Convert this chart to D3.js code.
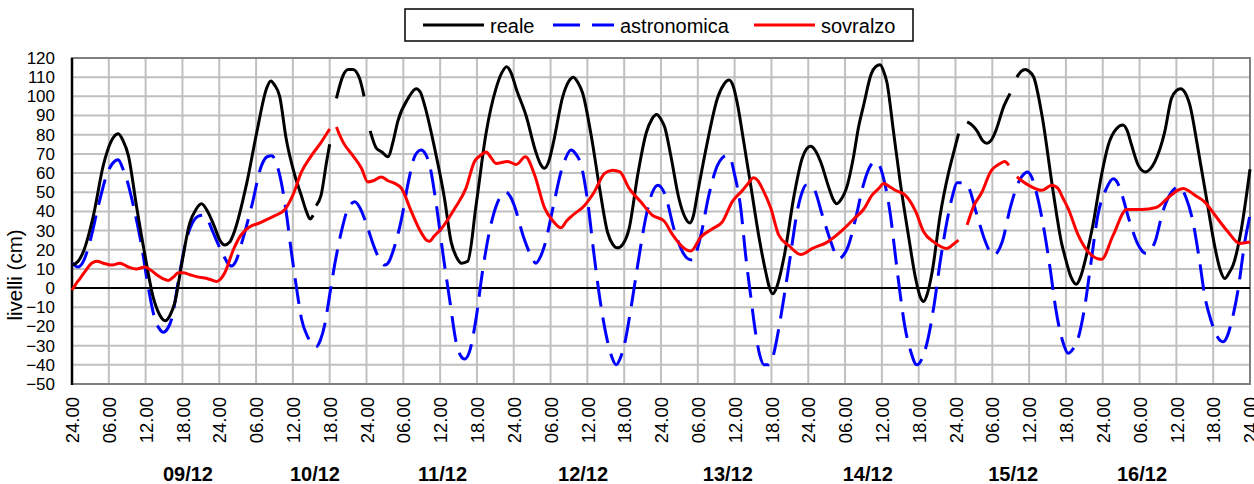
<!DOCTYPE html>
<html>
<head>
<meta charset="utf-8">
<script src="https://cdn.jsdelivr.net/npm/d3@7"></script>
<style>
  body { margin: 0; background: #fff; }
  svg text { font-family: "Liberation Sans", Arial, sans-serif; fill: #000; }
</style>
</head>
<body>
<svg id="chart" width="1254" height="484"></svg>
<script>
// ore dalle 24.00 dell'08/12, livelli in cm; [ora, null] = dato mancante
const reale = [
  [0,12],[1,14],[1.85,19],[3.5,38],[5.1,64],[6.3,76],[7.55,80.5],[8.3,77],[9.2,69],[10.5,43],[11.9,17],
  [13.25,-5],[14.3,-14],[15.2,-17],[16,-14],[16.8,-7],[17.9,13],[19.2,34],[20.2,41],[21.1,44],[22.1,40],
  [23.1,33],[24.1,25],[24.9,22.5],[25.7,24],[26.3,28],[28.5,55],[30.1,81],[31.7,104],[32.4,108],[33,106],
  [33.85,100],[34.9,78],[36.3,59],[37.4,48],[38.2,40],[38.8,36],[39.3,38],[39.5,null],[39.8,43],[40.6,48.5],
  [41.5,66],[42,75],[42.5,null],[43.1,99],[44.2,111],[45,114],[45.8,114],[46.9,109],[47.6,100],[48.1,null],
  [48.6,82],[49.6,73],[50.5,71],[51.5,68.5],[52.3,76],[53.1,87],[54.8,99],[56.1,104],[56.8,102],[57.5,95],
  [59.1,73],[60.7,47],[61.8,24],[62.7,16],[63.5,13],[64.5,14],[65.85,43],[67.5,81],[69.1,104],[70,112],
  [70.85,115.5],[71.6,112],[72.4,104],[74,90],[75.6,71],[76.3,65],[77,62.5],[77.7,66],[78.4,75],[80,100],
  [81,108],[81.7,110],[82.5,107],[83.2,102],[84.6,80],[86,52],[87.3,29],[88.1,23],[88.9,21],[89.8,23],
  [90.8,31],[92.2,59],[93.6,81],[94.5,88],[95.3,90.5],[96,88],[96.6,84],[97.6,69],[98.9,47],[99.9,37],
  [100.7,34],[101.3,38],[101.9,48.5],[103.55,76],[105.2,99],[106.2,106],[107.1,108.5],[107.8,105],[108.4,97],
  [109.5,76],[110.6,54],[112,26],[113.1,8],[113.7,0],[114.2,-3],[114.8,0],[116.1,17],[117.7,48.5],[119,67.6],
  [119.7,72.5],[120.4,74],[121.2,71.5],[122,66],[123.4,52],[124.1,46],[124.6,44],[125.3,46],[126.4,54],
  [127.35,68],[128.2,84],[129,95],[130.3,112],[131,115.5],[131.7,116.5],[132.3,113],[132.8,107.6],[133.9,81.5],
  [135,55],[136.4,26],[137.5,5],[138.3,-5],[138.8,-7],[139.4,-3],[140.2,8.5],[141.5,38],[142.9,60.6],[143.8,72],
  [144.5,80.6],[145.2,null],[145.9,86.7],[146.7,85],[147.5,82],[148.4,77],[149.1,75.5],[149.8,77],[150.5,81.5],
  [151.9,95],[152.9,101.5],[153.4,null],[154,110],[154.7,113],[155.4,114],[156,113],[156.75,110],[158.1,90],
  [159.7,55],[160.5,38],[161.25,24],[161.8,17],[162.8,6],[163.7,2],[164.4,6],[165.1,14],[166.4,33],[167.8,59],
  [168.9,74.6],[170.2,83],[171.3,85],[172,82],[172.7,74.6],[173.8,64],[174.9,60.6],[175.7,62],[176.5,66],
  [178.1,81.5],[179.2,99],[180,103],[180.7,104],[181.4,102],[182.2,95.4],[183.5,73],[184.9,47],[186.3,21],
  [187.1,10],[187.9,5],[188.6,8],[189.25,12],[190.6,31],[192,62]
];

const astronomica = [
  [0,13],[1,11],[2,15],[2.9,24],[4.3,43],[5.65,59],[6.6,65],[7.55,67],[8.2,63],[8.9,57],[10,43],[11.4,21],
  [12.45,0],[13.5,-16],[14.2,-21],[14.9,-23],[15.6,-21],[16.25,-16],[17.3,3],[18.4,22],[19.8,35],[20.6,37.5],
  [21.4,38],[22.2,35],[23,29],[24.7,17],[25.4,13],[26,11.5],[26.7,14],[27.7,24],[29.3,43],[30.9,64],[31.8,68.5],
  [32.6,69],[33.2,66],[33.85,59],[34.9,40],[35.75,19],[36.6,0],[37.4,-16],[38.5,-26],[39.3,-30],[39.8,-30.5],
  [40.5,-27],[41.2,-19],[42,-3.5],[42.8,12],[43.9,29.4],[45,41.6],[46.1,45],[46.9,42],[47.7,36],[49.3,21],
  [50.2,14.5],[51,12],[51.7,14],[52.3,19],[53.7,36],[54.8,55],[55.9,69],[56.9,72],[57.6,70],[58.3,64],[59.4,43],
  [60.5,17],[61.6,-7],[62.6,-28],[63.3,-35],[64,-37],[64.8,-33],[65.85,-16],[66.9,8.5],[68,29],[69.4,45],
  [70.7,50],[71.4,48],[72.1,43],[73.5,27.6],[74.8,17],[75.6,13],[76.3,16],[77,22],[78.4,42],[79.7,60.6],
  [80.5,68],[81.3,72],[82.1,70],[83,64],[84.05,45],[85.1,17],[86.2,-9],[87.3,-28],[88,-36],[88.7,-40],
  [89.3,-37],[90,-30],[91.1,-10.6],[92.2,12],[93.6,38],[94.6,50],[95.5,53.7],[96.7,48.5],[98.1,31],[99.5,19],
  [100.3,15.5],[101.1,14.6],[101.8,19],[102.5,27.6],[103.8,48.5],[105.2,64],[106,68],[106.8,69.3],[107.4,67],
  [107.9,60.6],[109,41.6],[109.8,17],[110.6,-3.6],[111.4,-23],[112.1,-35],[112.8,-40],[113.5,-40],[114.15,-36.7],
  [115.2,-21],[116.1,-3.6],[117.1,17],[118.2,40],[119,50],[119.6,53.7],[120.3,53.5],[120.9,52],[122.3,38],
  [123.7,24],[124.4,18],[125,15.5],[125.7,17],[126.4,21],[127.7,36],[129,54],[130,63],[130.9,66],[131.6,64],
  [132.3,57],[133.4,38],[134.2,17],[135,-3.6],[135.8,-21],[136.7,-33],[137.7,-40],[138.5,-37],[139.4,-28],
  [140.5,-9],[141.5,13.7],[142.6,34.6],[143.5,48],[144.25,55],[145.2,55],[146.2,52],[147.5,38],[148.9,24],
  [149.6,19],[150.2,17.2],[150.9,19],[151.6,24],[152.9,41.6],[154.3,55.4],[155,59],[155.7,60.6],[156.4,58],
  [157,52],[158.4,31],[159.5,8.5],[160.3,-10],[161,-22],[161.7,-30],[162.35,-34],[163.1,-32],[164,-26],
  [165.1,-9],[166.1,13.7],[167.2,38],[168.6,52],[169.7,57],[170.4,55],[171,50],[172.4,34.6],[173.8,22.4],
  [174.5,19],[175.1,18],[175.8,20],[176.5,24],[177.8,40],[179.2,50],[180.3,52.8],[181,51],[181.6,47],
  [182.7,34.6],[183.8,13.7],[184.6,-3.6],[185.7,-17.5],[186.6,-25],[187.6,-28],[188.3,-25],[189,-17.5],
  [190.1,0],[191.15,24],[192,38]
];

const sovralzo = [
  [0,-1],[0.6,2],[1.3,5],[2.2,9],[3.2,13],[4.1,14],[5.1,13],[6.5,12],[7.8,13],[9.2,11],[10.5,10],[11.9,11],
  [13,9],[13.8,7],[14.8,5],[15.7,4],[16.6,6],[17.3,8],[18.1,8],[19.2,7],[20.3,6],[22,5],[23,4],[23.6,3.5],
  [24.3,5],[24.9,8],[26.3,20],[27.4,27],[28.2,30],[29,32],[30.6,34],[31.9,36],[33.2,38],[34.7,41],[36,48.5],
  [37.4,60.6],[39,69],[40.6,76],[41.4,80],[42,83],[42.5,null],[43.1,84],[43.6,80],[44.2,76],[45.8,69],
  [47.2,62.4],[48.2,55.4],[49.1,56],[50.4,58],[51.5,56],[52.6,54.6],[53.7,52],[55.3,40],[56.9,29],[57.8,25],
  [58.3,24.5],[59,27],[60.2,31],[62.4,41.6],[64.2,52],[65.6,66],[66.5,69],[67.5,71],[68.3,68],[69.1,65],
  [71,66],[72.4,64.5],[73.9,68.5],[75.4,59],[77,42],[78.4,35],[79.7,31.5],[80.6,35],[81.6,38],[83.5,43],
  [85.1,50],[86.8,59.8],[88.1,61.5],[89.3,60.6],[90.8,52],[92.7,45],[94.6,38],[96.5,35],[97.85,28],[99.5,21.5],
  [100.85,19.3],[102.5,26.7],[104.4,31],[106,34.6],[107.6,45],[109.3,51],[110.3,55],[111.05,57.5],[111.8,56],
  [112.5,52],[113.9,41.6],[115.2,27.6],[116.9,22],[118.8,17.5],[120.7,20.7],[123.1,24],[125.3,29.4],[127.5,36.3],
  [129,41],[130.4,48.5],[131.5,52],[132.3,54.6],[133.2,53],[134.2,51],[135.8,48.5],[137.5,40],[138.8,29.4],
  [140.5,24],[142.6,20.7],[143.7,23],[144.5,25],[145.2,null],[145.9,33],[147,43],[148.3,50],[149.7,60.6],
  [151.3,65],[152,66],[152.7,64],[153.4,null],[154,58],[155.9,53.7],[158.1,51],[159.7,53.7],[160.7,52],
  [161.5,47],[162.35,41.6],[164,27.6],[165.6,19],[167.8,15],[169.7,27.6],[171.9,41],[174.3,41],[176.7,42],
  [178.6,47],[180.2,51],[181.1,52],[183,48.5],[184.6,45],[186.3,38],[188.4,29.4],[190.3,23.3],[192,24]
];

const orari = ["24.00", "06.00", "12.00", "18.00"];
const giorni = [["09/12",18.9],["10/12",39.6],["11/12",60.4],["12/12",83.3],["13/12",106.9],["14/12",129.7],["15/12",153.4],["16/12",174.4]];
const serie = [
  {nome: "reale", dati: reale, colore: "#000000", dash: null},
  {nome: "astronomica", dati: astronomica, colore: "#0000ff", dash: "26,11"},
  {nome: "sovralzo", dati: sovralzo, colore: "#ff0000", dash: null}
];

let svg = d3.select("#chart")

let x = d3.scaleLinear().domain([0, 192]).range([72, 1250])
let y = d3.scaleLinear().domain([-50, 120]).range([384, 58])

// griglia
svg.append("g").selectAll("line")
  .data(d3.range(-50, 121, 10))
  .enter().append("line")
  .attr("x1", x(0)).attr("x2", x(192))
  .attr("y1", function(d){ return y(d) }).attr("y2", function(d){ return y(d) })
  .attr("stroke", "#c0c0c0").attr("stroke-width", 2)

svg.append("g").selectAll("line")
  .data(d3.range(0, 193, 6))
  .enter().append("line")
  .attr("x1", function(d){ return x(d) }).attr("x2", function(d){ return x(d) })
  .attr("y1", y(-50)).attr("y2", y(120))
  .attr("stroke", "#c0c0c0").attr("stroke-width", 2)

svg.append("rect")
  .attr("x", x(0)).attr("y", y(120))
  .attr("width", x(192) - x(0)).attr("height", y(-50) - y(120))
  .attr("fill", "none").attr("stroke", "#808080").attr("stroke-width", 2)

// assi
let yAxis = d3.axisLeft(y).tickValues(d3.range(-50, 121, 10)).tickSize(0).tickPadding(17)
let gy = svg.append("g").attr("transform", `translate(${x(0)},0)`).call(yAxis)
gy.select(".domain").remove()
gy.selectAll("text").style("font-size", "17px").attr("font-family", null)

let xAxis = d3.axisBottom(x).tickValues(d3.range(0, 193, 6)).tickSize(0)
  .tickFormat(function(d){ return orari[(d / 6) % 4] })
let gx = svg.append("g").attr("transform", `translate(0,${y(-50)})`).call(xAxis)
gx.select(".domain").remove()
gx.selectAll("text")
  .style("font-size", "18.5px").attr("font-family", null)
  .attr("transform", "rotate(-90)")
  .attr("text-anchor", "end")
  .attr("x", -13).attr("y", 0).attr("dy", "0.36em")

svg.append("line")
  .attr("x1", x(0)).attr("x2", x(192))
  .attr("y1", y(0)).attr("y2", y(0))
  .attr("stroke", "#000").attr("stroke-width", 2)

svg.append("line")
  .attr("x1", x(0)).attr("x2", x(0))
  .attr("y1", y(120)).attr("y2", y(-50) + 1)
  .attr("stroke", "#000").attr("stroke-width", 2.5)

svg.append("g").selectAll("text")
  .data(giorni)
  .enter().append("text")
  .attr("x", function(d){ return x(d[1]) })
  .attr("y", 481)
  .attr("text-anchor", "middle")
  .style("font-size", "20px").style("font-weight", "bold")
  .text(function(d){ return d[0] })

svg.append("text")
  .attr("transform", "translate(22,275) rotate(-90)")
  .attr("text-anchor", "middle")
  .style("font-size", "20.5px")
  .text("livelli (cm)")

// serie
let line = d3.line()
  .defined(function(d){ return d[1] !== null })
  .x(function(d){ return x(d[0]) })
  .y(function(d){ return y(d[1]) })
  .curve(d3.curveMonotoneX)

svg.append("g").selectAll("path")
  .data([serie[1], serie[0], serie[2]])
  .enter().append("path")
  .attr("d", function(d){ return line(d.dati) })
  .attr("fill", "none")
  .attr("stroke", function(d){ return d.colore })
  .attr("stroke-width", 3)
  .attr("stroke-dasharray", function(d){ return d.dash })
  .attr("stroke-linejoin", "round")

// legenda
let leg = svg.append("g")
leg.append("rect")
  .attr("x", 405).attr("y", 9).attr("width", 508).attr("height", 32)
  .attr("fill", "#fff").attr("stroke", "#000").attr("stroke-width", 1.5)

let legX = [423, 553, 754]
serie.forEach(function(s, i){
  leg.append("line")
    .attr("x1", legX[i]).attr("x2", legX[i] + 61)
    .attr("y1", 25).attr("y2", 25)
    .attr("stroke", s.colore).attr("stroke-width", 3)
    .attr("stroke-dasharray", s.dash ? "27,12" : null)
  leg.append("text")
    .attr("x", legX[i] + 67).attr("y", 33)
    .style("font-size", "20px")
    .text(s.nome)
})
</script>
</body>
</html>
